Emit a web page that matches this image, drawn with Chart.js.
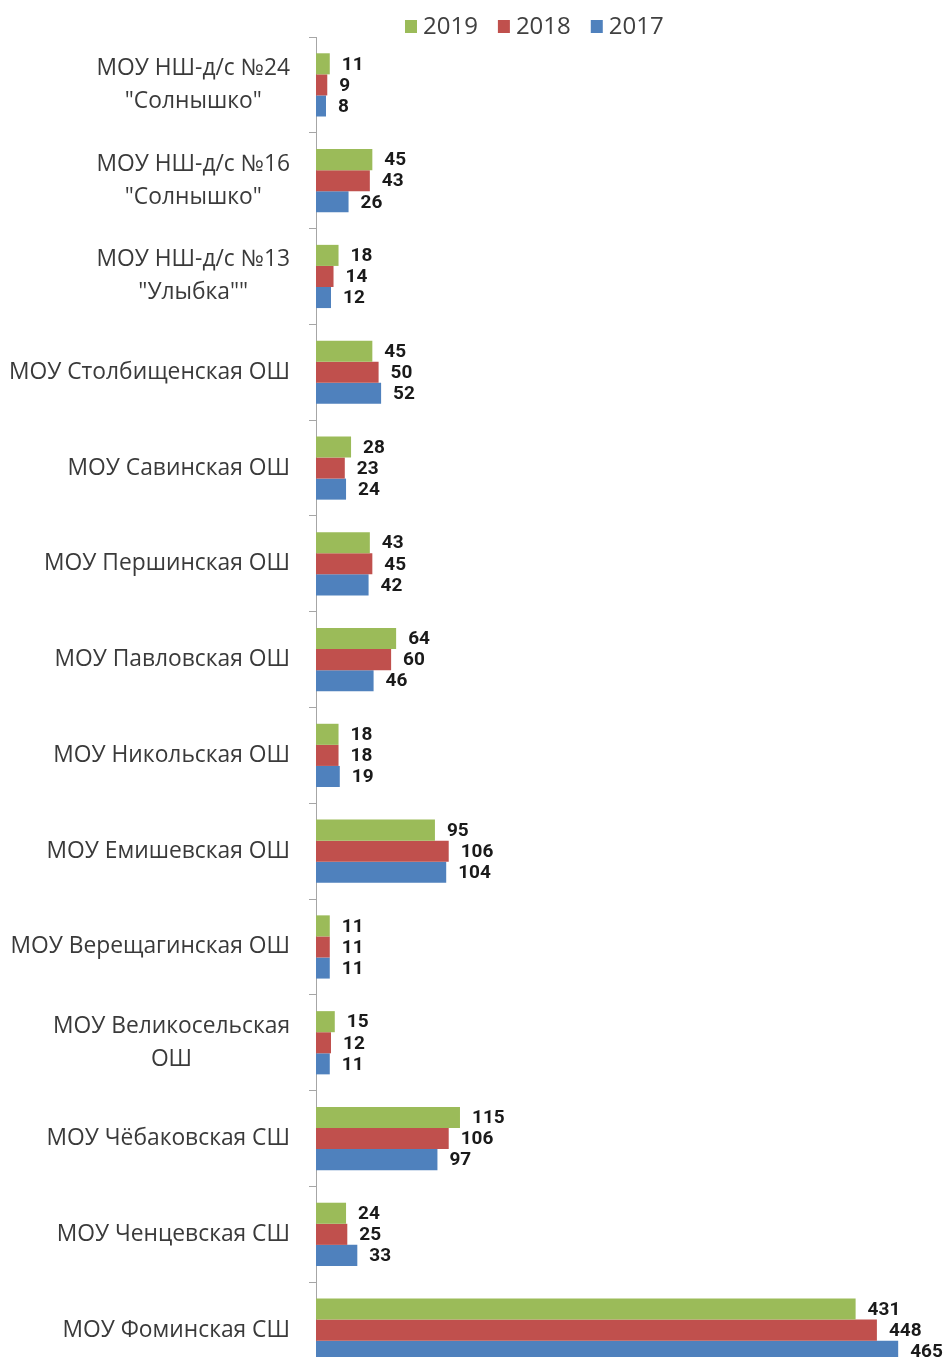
<!DOCTYPE html>
<html>
<head>
<meta charset="utf-8">
<script src="https://cdn.jsdelivr.net/npm/chart.js@4.4.1/dist/chart.umd.min.js"></script>
<style>
  html, body { margin: 0; padding: 0; background: #fff; overflow: hidden; }
  #wrap { position: relative; width: 948px; height: 1380px; }
</style>
</head>
<body>
<div id="wrap"><canvas id="chart"></canvas></div>
<script>
const categories = [
  ["МОУ НШ-д/с №24", "\"Солнышко\""],
  ["МОУ НШ-д/с №16", "\"Солнышко\""],
  ["МОУ НШ-д/с №13", "\"Улыбка\"\""],
  "МОУ Столбищенская ОШ",
  "МОУ Савинская ОШ",
  "МОУ Першинская ОШ",
  "МОУ Павловская ОШ",
  "МОУ Никольская ОШ",
  "МОУ Емишевская ОШ",
  "МОУ Верещагинская ОШ",
  ["МОУ Великосельская", "ОШ"],
  "МОУ Чёбаковская СШ",
  "МОУ Ченцевская СШ",
  "МОУ Фоминская СШ"
]
const values2019 = [11, 45, 18, 45, 28, 43, 64, 18, 95, 11, 15, 115, 24, 431]
const values2018 = [9, 43, 14, 50, 23, 45, 60, 18, 106, 11, 12, 106, 25, 448]
const values2017 = [8, 26, 12, 52, 24, 42, 46, 19, 104, 11, 11, 97, 33, 465]

const labelFont = "22.8px 'Open Sans', 'Noto Sans', sans-serif"
const valueFont = "bold 19px Roboto, 'Noto Sans', sans-serif"

// category labels: block right-aligned, lines centred inside the block
const categoryLabels = {
  id: "categoryLabels",
  afterDraw(chart) {
    const ctx = chart.ctx
    const y = chart.scales.y
    ctx.save()
    ctx.font = labelFont
    ctx.fillStyle = "#3a3a3a"
    ctx.textBaseline = "middle"
    ctx.textAlign = "center"
    categories.forEach((cat, i) => {
      const lines = Array.isArray(cat) ? cat : [cat]
      const widest = Math.max(...lines.map(l => ctx.measureText(l).width))
      const cx = 290 - widest / 2
      const cy = y.getPixelForValue(i)
      const lh = 33
      lines.forEach((l, k) => {
        ctx.fillText(l, cx, cy + (k - (lines.length - 1) / 2) * lh)
      })
    })
    ctx.restore()
  }
}

// value labels right of each bar
const valueLabels = {
  id: "valueLabels",
  afterDatasetsDraw(chart) {
    const ctx = chart.ctx
    ctx.save()
    ctx.font = valueFont
    ctx.fillStyle = "#1a1a1a"
    ctx.textBaseline = "middle"
    ctx.textAlign = "left"
    chart.data.datasets.forEach((ds, di) => {
      chart.getDatasetMeta(di).data.forEach((bar, i) => {
        ctx.fillText(ds.data[i], bar.x + 12, bar.y + 1)
      })
    })
    ctx.restore()
  }
}

// legend drawn by hand so it sits where the original has it
const topLegend = {
  id: "topLegend",
  afterDraw(chart) {
    const ctx = chart.ctx
    ctx.save()
    ctx.font = "24px 'Open Sans', 'Noto Sans', sans-serif"
    ctx.textBaseline = "middle"
    ctx.textAlign = "left"
    let x = 405
    chart.data.datasets.forEach(ds => {
      ctx.fillStyle = ds.backgroundColor
      ctx.fillRect(x, 20, 12, 13)
      ctx.fillStyle = "#404040"
      ctx.fillText(ds.label, x + 18, 27)
      x += 18 + ctx.measureText(ds.label).width + 20
    })
    ctx.restore()
  }
}

new Chart(document.getElementById("chart").getContext("2d"), {
  type: "bar",
  data: {
    labels: categories,
    datasets: [
      { label: "2019", data: values2019, backgroundColor: "#9BBB59" },
      { label: "2018", data: values2018, backgroundColor: "#C0504D" },
      { label: "2017", data: values2017, backgroundColor: "#4F81BD" }
    ]
  },
  options: {
    indexAxis: "y",
    responsive: true,
    maintainAspectRatio: false,
    animation: false,
    layout: { padding: { top: 37, right: 6, bottom: 2, left: 0 } },
    datasets: {
      bar: { categoryPercentage: 0.66, barPercentage: 1 }
    },
    plugins: {
      legend: { display: false },
      tooltip: { enabled: false }
    },
    scales: {
      x: { display: false, min: 0, max: 500 },
      y: {
        afterFit(scale) { scale.width = 316 },
        ticks: { display: false },
        grid: {
          offset: true,
          drawOnChartArea: false,
          drawTicks: true,
          tickLength: 7,
          color: "#a6a6a6"
        },
        border: { color: "#a6a6a6", width: 1 }
      }
    }
  },
  plugins: [categoryLabels, valueLabels, topLegend]
})
</script>
</body>
</html>
